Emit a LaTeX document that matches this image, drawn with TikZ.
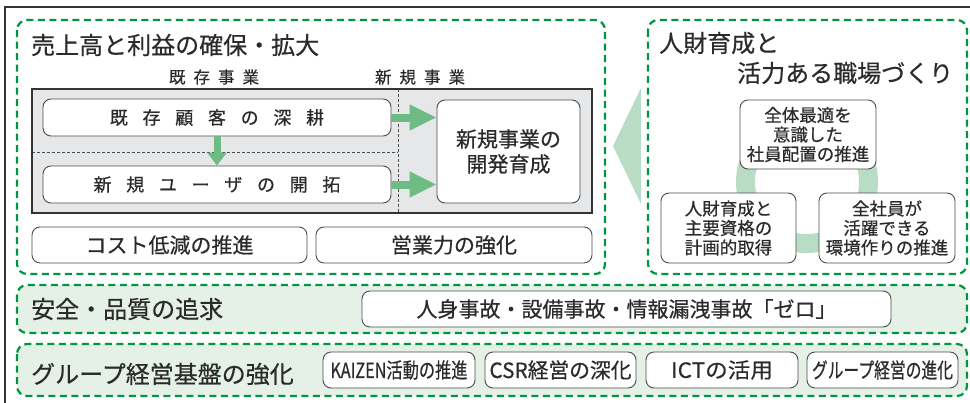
\documentclass[tikz,border=0pt]{standalone}
\usepackage{fontspec}
\usepackage{graphicx}
\setmainfont{Noto Sans CJK JP}[FakeBold=0.5]
\usetikzlibrary{arrows.meta}
\definecolor{txt}{HTML}{2B2B2B}
\definecolor{dgreen}{RGB}{0,150,64}
\definecolor{agreen}{RGB}{110,187,131}
\definecolor{lgreen}{RGB}{185,220,196}
\definecolor{rowfill}{RGB}{229,240,231}
\definecolor{boxgray}{HTML}{E6E7E8}
\definecolor{framec}{HTML}{333333}
\newcommand{\gp}{\hspace{14.7pt}}
\newcommand{\gs}{\hspace{8pt}}
\begin{document}
\begin{tikzpicture}[x=1pt,y=-1pt,
  dbox/.style={draw=dgreen, line width=2.2pt, dash pattern=on 7pt off 4.5pt, rounded corners=10pt},
  rbox/.style={draw=black!70, line width=0.9pt, fill=white, rounded corners=8pt, inner sep=0pt, align=center, text=txt},
  ttl/.style={anchor=west, inner sep=0pt, text=txt, font=\fontsize{24}{28}\selectfont},
  mid/.style={font=\fontsize{21}{25}\selectfont},
  sml/.style={font=\fontsize{17.5}{19.5}\selectfont},
  sup/.style={inner sep=0pt, text=txt, font=\fontsize{16.5}{20}\selectfont},
  arr/.style={agreen, line width=8pt, -{Triangle[width=24pt,length=27pt]}},
  darr/.style={agreen, line width=7pt, -{Triangle[width=19pt,length=13pt]}},
  sep/.style={draw=black!70, line width=0.8pt, dash pattern=on 3pt off 2pt}]
\useasboundingbox (0,0) rectangle (970,402);
% outer frame
\draw[framec, line width=2pt] (5,410) -- (5,7) -- (975,7);
% row backgrounds
\fill[rowfill, rounded corners=10pt] (17,285) rectangle (967,333);
\fill[rowfill, rounded corners=10pt] (17,344) rectangle (967,396);
% light green triangle and ring
\fill[lgreen] (613,146) -- (641,88) -- (641,204) -- cycle;
\draw[lgreen, line width=19pt] (807,182) circle (61.5);
% dashed group boxes
\draw[dbox] (17,20) rectangle (605,274);
\draw[dbox] (648,20) rectangle (967,274);
\draw[dbox] (17,285) rectangle (967,333);
\draw[dbox] (17,344) rectangle (967,396);
% gray area
\fill[boxgray] (32,89) rectangle (592,213);
\draw[sep] (398,89) -- (398,213);
\draw[sep] (32,152) -- (398,152);
\draw[framec, line width=2.5pt] (32,89) rectangle (592,213);
% titles
\node[ttl] (t1) at (31,45) {売上高と利益の確保・拡大};
\node[ttl] (t2a) at (659,43) {人財育成と};
\node[ttl] (t2b) at (737,73) {活力ある職場づくり};
\node[ttl] (t3) at (31,309) {安全・品質の追求};
\node[ttl] (t4) at (31,374) {グループ経営基盤の強化};
\node[sup] (l1) at (214,77) {既\gs 存\gs 事\gs 業};
\node[sup] (l2) at (420,77) {新\gs 規\gs 事\gs 業};
% boxes
\node[rbox, minimum width=348pt, minimum height=37pt, font=\fontsize{18}{22}\selectfont] (k1) at (217,117.5) {既\gp 存\gp 顧\gp 客\gp の\gp 深\gp 耕};
\node[rbox, minimum width=348pt, minimum height=37pt, font=\fontsize{18}{22}\selectfont] (k2) at (217,184.5) {新\gp 規\gp ユ\gp ー\gp ザ\gp の\gp 開\gp 拓};
\node[rbox, mid, minimum width=143pt, minimum height=103pt] (nb) at (508.5,151.5) {新規事業の\\開発育成};
\node[rbox, mid, minimum width=275pt, minimum height=36pt] (c1) at (169.5,245) {コスト低減の推進};
\node[rbox, mid, minimum width=276pt, minimum height=36pt] (c2) at (454,245) {営業力の強化};
\node[rbox, sml, minimum width=136pt, minimum height=69pt] (r1) at (808,134.5) {全体最適を\\意識した\\社員配置の推進};
\node[rbox, sml, minimum width=135pt, minimum height=70pt] (r2) at (728.5,228) {人財育成と\\主要資格の\\計画的取得};
\node[rbox, sml, minimum width=136pt, minimum height=70pt] (r3) at (887,228) {全社員が\\活躍できる\\環境作りの推進};
\node[rbox, mid, minimum width=529pt, minimum height=36pt] (s1) at (626.5,309) {人身事故・設備事故・情報漏洩事故「ゼロ」};
\node[rbox, mid, minimum width=152pt, minimum height=36pt] (g1) at (399,370) {\resizebox{137pt}{\height}{KAIZEN活動の推進}};
\node[rbox, mid, minimum width=151pt, minimum height=36pt] (g2) at (560.5,370) {\resizebox{142pt}{\height}{CSR経営の深化}};
\node[rbox, mid, minimum width=152pt, minimum height=36pt] (g3) at (722,370) {\resizebox{102pt}{\height}{ICTの活用}};
\node[rbox, mid, minimum width=151pt, minimum height=36pt] (g4) at (882.5,370) {\resizebox{141pt}{\height}{グループ経営の進化}};
% arrows
\draw[arr] (k1.east) -- (k1.east -| nb.west);
\draw[arr] (k2.east) -- (k2.east -| nb.west);
\draw[darr] (k1.south) -- (k2.north);
\end{tikzpicture}
\end{document}
